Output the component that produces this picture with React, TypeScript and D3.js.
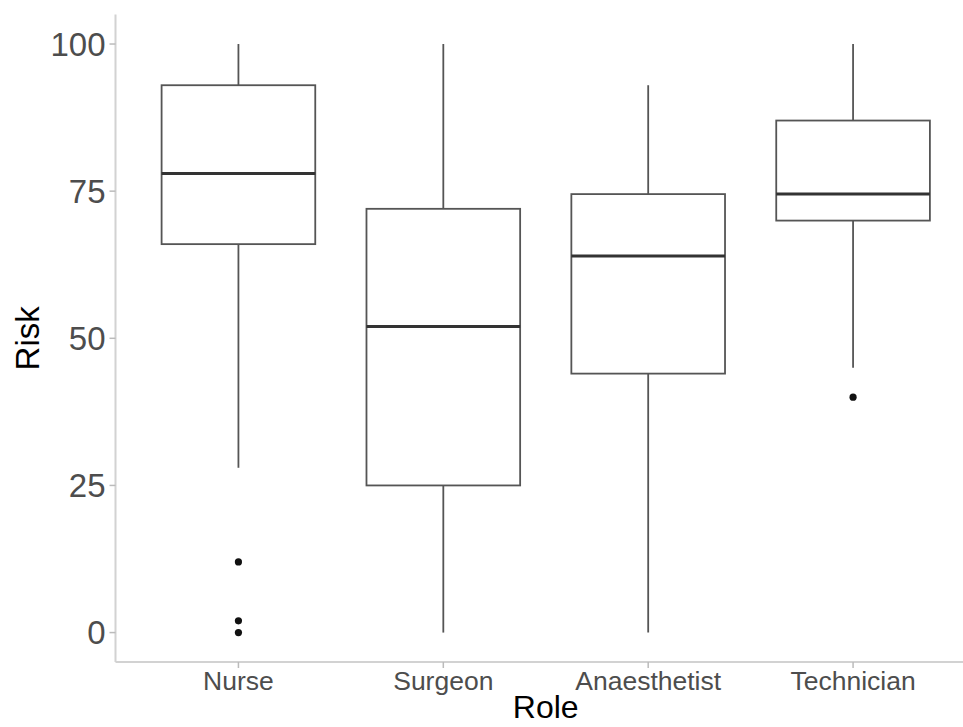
import React from "react";
import * as d3 from "d3";

const roles = ["Nurse", "Surgeon", "Anaesthetist", "Technician"];
const whiskerLow = [28, 0, 0, 45];
const q1 = [66, 25, 44, 70];
const median = [78, 52, 64, 74.5];
const q3 = [93, 72, 74.5, 87];
const whiskerHigh = [100, 100, 93, 100];
const outlierRole = ["Nurse", "Nurse", "Nurse", "Technician"];
const outlierValue = [12, 2, 0, 40];
const yTicks = [0, 25, 50, 75, 100];

const W = 963;
const H = 727;

export default function App() {
  const x = d3.scaleLinear().domain([0.4, 4.6]).range([115.5, 976]);
  const y = d3.scaleLinear().domain([-5, 105]).range([662, 14.6]);
  const step = x(2) - x(1);
  const bw = step * 0.75;
  const font = "'Liberation Sans', Arial, Helvetica, sans-serif";
  const xi = (r: string) => x(roles.indexOf(r) + 1);
  const left = x(0.4);
  const bottom = y(-5);

  return (
    <svg
      width={W}
      height={H}
      style={{ position: "absolute", left: 0, top: 0, background: "#fff" }}
      fontFamily={font}
    >
      <rect width={W} height={H} fill="#fff" />
      {roles.map((r, i) => {
        const cx = x(i + 1);
        return (
          <g key={r}>
            <line x1={cx} x2={cx} y1={y(whiskerHigh[i])} y2={y(q3[i])} stroke="#555" strokeWidth={1.8} />
            <line x1={cx} x2={cx} y1={y(q1[i])} y2={y(whiskerLow[i])} stroke="#555" strokeWidth={1.8} />
            <rect
              x={cx - bw / 2}
              y={y(q3[i])}
              width={bw}
              height={y(q1[i]) - y(q3[i])}
              fill="#fff"
              stroke="#555"
              strokeWidth={1.8}
            />
            <line x1={cx - bw / 2} x2={cx + bw / 2} y1={y(median[i])} y2={y(median[i])} stroke="#333" strokeWidth={3} />
          </g>
        );
      })}
      {outlierValue.map((v, i) => (
        <circle key={i} cx={xi(outlierRole[i])} cy={y(v)} r={3.6} fill="#111" />
      ))}
      <line x1={left} x2={left} y1={y(105)} y2={bottom} stroke="#d2d2d2" strokeWidth={2} />
      <line x1={left} x2={W} y1={bottom} y2={bottom} stroke="#d2d2d2" strokeWidth={2} />
      {yTicks.map((t) => (
        <g key={t}>
          <line x1={left - 6} x2={left} y1={y(t)} y2={y(t)} stroke="#bbb" strokeWidth={1.5} />
          <text x={left - 10} y={y(t)} dy="0.36em" textAnchor="end" fontSize={33} fill="#4d4d4d">
            {t}
          </text>
        </g>
      ))}
      {roles.map((r, i) => (
        <g key={r}>
          <line x1={x(i + 1)} x2={x(i + 1)} y1={bottom} y2={bottom + 6} stroke="#bbb" strokeWidth={1.5} />
          <text x={x(i + 1)} y={690} textAnchor="middle" fontSize={26.5} fill="#4d4d4d">
            {r}
          </text>
        </g>
      ))}
      <text x={(left + x(4.6)) / 2} y={718} textAnchor="middle" fontSize={32} fill="#000">
        Role
      </text>
      <text
        transform={`translate(39, ${y(50)}) rotate(-90)`}
        textAnchor="middle"
        fontSize={33}
        fill="#000"
      >
        Risk
      </text>
    </svg>
  );
}
